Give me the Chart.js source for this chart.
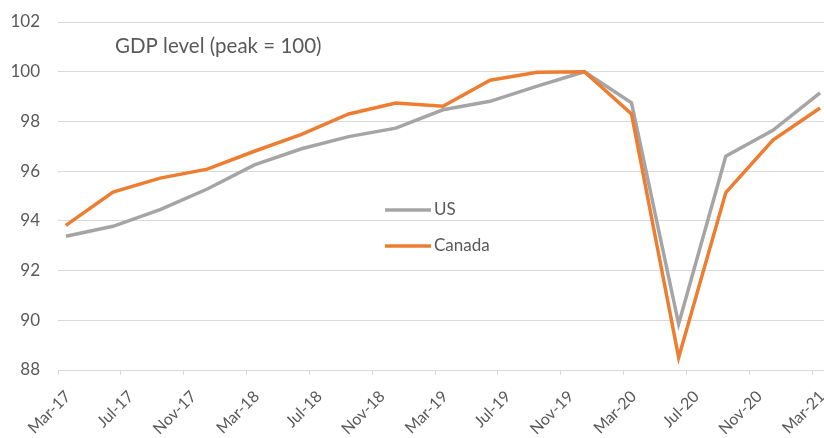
<!DOCTYPE html>
<html>
<head>
<meta charset="utf-8">
<script src="https://cdn.jsdelivr.net/npm/chart.js@4/dist/chart.umd.min.js"></script>
<style>
  html, body { margin: 0; padding: 0; background: #ffffff; }
  #wrap { width: 824px; height: 438px; position: relative; }
</style>
</head>
<body>
<div id="wrap"><canvas id="c" width="824" height="438"></canvas></div>
<script>
// ---- Data ----
const quarters = ['Mar-17','Jun-17','Sep-17','Dec-17','Mar-18','Jun-18','Sep-18','Dec-18',
                  'Mar-19','Jun-19','Sep-19','Dec-19','Mar-20','Jun-20','Sep-20','Dec-20','Mar-21'];
const usValues = [93.38, 93.78, 94.45, 95.28, 96.25, 96.9, 97.39, 97.73,
                  98.47, 98.81, 99.42, 100.0, 98.75, 89.85, 96.6, 97.64, 99.15];
const canadaValues = [93.82, 95.16, 95.72, 96.08, 96.8, 97.48, 98.3, 98.74,
                      98.61, 99.66, 99.98, 100.0, 98.3, 88.5, 95.14, 97.25, 98.54];
const xTickLabels = ['Mar-17','Jul-17','Nov-17','Mar-18','Jul-18','Nov-18','Mar-19',
                     'Jul-19','Nov-19','Mar-20','Jul-20','Nov-20','Mar-21'];
const yTickValues = [88, 90, 92, 94, 96, 98, 100, 102];
const seriesNames = ['US', 'Canada'];
const annotationText = 'GDP level (peak = 100)';

// ---- Helpers: month index since the first label ----
const MONTHS = ['Jan','Feb','Mar','Apr','May','Jun','Jul','Aug','Sep','Oct','Nov','Dec'];
function monthIndex(label) {
  const [m, y] = label.split('-');
  return (parseInt(y, 10) * 12 + MONTHS.indexOf(m));
}
const base = monthIndex(xTickLabels[0]);
const toX = lbl => monthIndex(lbl) - base;
// quarterly observations plotted at mid-month
const pts = vals => vals.map((v, i) => ({ x: toX(quarters[i]) + 0.5, y: v }));
const tickPos = xTickLabels.map(toX);

const GREY = '#A5A5A5';
const ORANGE = '#ED7D31';
const TEXT = '#595959';
const GRID = '#D9D9D9';

const overlay = {
  id: 'overlay',
  afterDraw(chart) {
    const ctx = chart.ctx;
    ctx.save();
    ctx.fillStyle = TEXT;
    ctx.font = '20.5px Lato';
    ctx.textBaseline = 'middle';
    ctx.textAlign = 'left';
    ctx.fillText(annotationText, 115, 46);
    const legendY = [210, 246];
    chart.data.datasets.forEach((ds, i) => {
      ctx.strokeStyle = ds.borderColor;
      ctx.lineWidth = 3.5;
      ctx.beginPath();
      ctx.moveTo(385, legendY[i]);
      ctx.lineTo(431, legendY[i]);
      ctx.stroke();
      ctx.fillStyle = TEXT;
      ctx.font = '17px Lato';
      ctx.fillText(ds.label, 434, legendY[i]);
    });
    ctx.restore();
  }
};

function zeroPad(s) {
  s.paddingTop = 0; s.paddingBottom = 0; s.paddingLeft = 0; s.paddingRight = 0;
}

new Chart(document.getElementById('c'), {
  type: 'line',
  data: {
    datasets: [
      { label: seriesNames[0], data: pts(usValues), borderColor: GREY, backgroundColor: GREY,
        borderWidth: 3.5, pointRadius: 0, tension: 0, order: 1 },
      { label: seriesNames[1], data: pts(canadaValues), borderColor: ORANGE, backgroundColor: ORANGE,
        borderWidth: 3.5, pointRadius: 0, tension: 0, order: 0 }
    ]
  },
  options: {
    responsive: false,
    animation: false,
    devicePixelRatio: 1,
    layout: { autoPadding: false, padding: { top: 22, right: 0, left: 0, bottom: 0 } },
    plugins: { legend: { display: false }, tooltip: { enabled: false }, title: { display: false } },
    scales: {
      x: {
        type: 'linear',
        min: 0,
        max: 48.75,
        afterBuildTicks: s => { s.ticks = tickPos.map(v => ({ value: v })); },
        afterFit: s => { s.height = 68; zeroPad(s); },
        ticks: {
          autoSkip: false,
          maxRotation: 45,
          minRotation: 45,
          color: TEXT,
          font: { family: 'Lato', size: 16 },
          padding: 12,
          labelOffset: 10,
          callback: (v) => xTickLabels[tickPos.indexOf(v)]
        },
        grid: { display: true, drawOnChartArea: false, drawTicks: true, tickLength: 5, color: GRID, lineWidth: 1 },
        border: { display: true, color: GRID, width: 1 }
      },
      y: {
        min: 88,
        max: 102,
        afterBuildTicks: s => { s.ticks = yTickValues.map(v => ({ value: v })); },
        afterFit: s => { s.width = 58; zeroPad(s); },
        ticks: {
          color: TEXT,
          font: { family: 'Lato', size: 17 },
          padding: 18
        },
        grid: { color: GRID, lineWidth: 1, drawTicks: false },
        border: { display: false }
      }
    }
  },
  plugins: [overlay]
});
</script>
</body>
</html>
